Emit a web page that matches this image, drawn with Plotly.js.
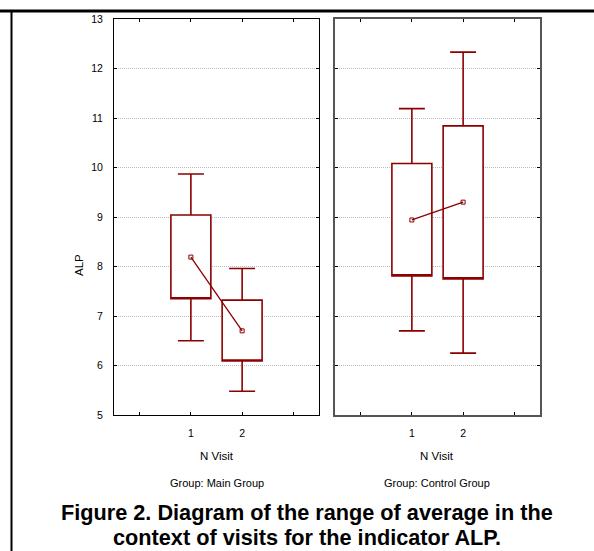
<!DOCTYPE html>
<html>
<head>
<meta charset="utf-8">
<script src="https://cdn.plot.ly/plotly-3.0.1.min.js"></script>
<style>
html,body{margin:0;padding:0;background:#fff;}
#chart{width:594px;height:551px;}
</style>
</head>
<body>
<div id="chart"></div>
<script>
// ---- data ----
const visits = [1, 2];
const xTickVals = [0, 1, 2, 3];
const xTickText = ['', '1', '2', ''];
const yTickVals = [5, 6, 7, 8, 9, 10, 11, 12, 13];

// Main group
const mainMean = [8.19, 6.70];
const mainBoxLow = [7.35, 6.09];
const mainBoxHigh = [9.04, 7.32];
const mainWhiskLow = [6.50, 5.48];
const mainWhiskHigh = [9.87, 7.96];

// Control group
const ctrlMean = [8.94, 9.30];
const ctrlBoxLow = [7.81, 7.75];
const ctrlBoxHigh = [10.08, 10.84];
const ctrlWhiskLow = [6.70, 6.25];
const ctrlWhiskHigh = [11.19, 12.33];

const groupLabels = ['Group: Main Group', 'Group: Control Group'];
const xTitle = 'N Visit';
const yTitle = 'ALP';
const captionLines = ['Figure 2. Diagram of the range of average in the',
                      'context of visits for the indicator ALP.'];

// ---- style ----
const RED = '#8b0000';
const W = 594, H = 551;
const font = 'Liberation Sans, Arial, sans-serif';
const narrow = 'Liberation Sans Narrow, Liberation Sans, Arial, sans-serif';
const px = v => v / W;
const py = v => 1 - v / H;

function boxTrace(low, high, wl, wh, xa, ya) {
  return {
    type: 'box', x: visits, q1: low, median: low, q3: high,
    lowerfence: wl, upperfence: wh,
    width: 0.78, whiskerwidth: 0.65,
    line: {color: RED, width: 1.6}, fillcolor: '#ffffff',
    xaxis: xa, yaxis: ya, showlegend: false, hoverinfo: 'skip'
  };
}
function meanTrace(m, xa, ya) {
  return {
    type: 'scatter', mode: 'lines+markers', x: visits, y: m,
    line: {color: RED, width: 1.3},
    marker: {symbol: 'square-open', size: 4, color: RED, line: {color: RED, width: 1}},
    xaxis: xa, yaxis: ya, showlegend: false, hoverinfo: 'skip'
  };
}

const data = [
  boxTrace(mainBoxLow, mainBoxHigh, mainWhiskLow, mainWhiskHigh, 'x', 'y'),
  meanTrace(mainMean, 'x', 'y'),
  boxTrace(ctrlBoxLow, ctrlBoxHigh, ctrlWhiskLow, ctrlWhiskHigh, 'x2', 'y2'),
  meanTrace(ctrlMean, 'x2', 'y2')
];

const yDom = [1 - 415 / H, 1 - 19 / H];
function xAx(dom, lc, lw) {
  return {
    domain: dom, range: [-0.5, 3.5], tickvals: xTickVals, ticktext: xTickText,
    ticks: 'inside', ticklen: 3, tickcolor: '#000', mirror: 'ticks',
    showline: true, linecolor: lc, linewidth: lw, showgrid: false, zeroline: false,
    tickfont: {family: font, size: 10.5, color: '#000'}, ticklabelstandoff: 8, fixedrange: true
  };
}
function yAx(anchor, labels, lc, lw) {
  return {
    domain: yDom, range: [5, 13], tickvals: yTickVals, anchor: anchor,
    ticks: 'inside', ticklen: 3, tickcolor: '#000', mirror: 'ticks',
    showline: true, linecolor: lc, linewidth: lw,
    showgrid: true, gridcolor: '#bbbbbb', griddash: '1px,1px', gridwidth: 1, zeroline: false,
    showticklabels: labels, tickfont: {family: font, size: 10.5, color: '#000'},
    ticklabelstandoff: 8, fixedrange: true
  };
}
function ann(text, x, y, size, fam, extra) {
  return Object.assign({text: text, xref: 'paper', yref: 'paper', x: px(x), y: py(y),
    xanchor: 'center', yanchor: 'middle', showarrow: false,
    font: {family: fam, size: size, color: '#000'}}, extra || {});
}

const layout = {
  width: W, height: H, margin: {l: 0, r: 0, t: 0, b: 0},
  paper_bgcolor: '#fff', plot_bgcolor: '#fff',
  showlegend: false,
  xaxis: Object.assign(xAx([px(114), px(319)], '#000', 1), {anchor: 'y'}),
  yaxis: yAx('x', true, '#000', 1),
  xaxis2: Object.assign(xAx([px(335), px(540)], '#555', 1.8), {anchor: 'y2'}),
  yaxis2: yAx('x2', false, '#555', 1.8),
  annotations: [
    ann(yTitle, 79, 265, 11.5, font, {textangle: -90}),
    ann(xTitle, 216.5, 456, 11.5, font),
    ann(xTitle, 437.5, 456, 11.5, font),
    ann(groupLabels[0], 216.5, 483, 11, font),
    ann(groupLabels[1], 437.5, 483, 11, font),
    ann('<b>' + captionLines[0] + '</b>', 307, 512, 21.7, narrow),
    ann('<b>' + captionLines[1] + '</b>', 307, 537, 21.7, narrow)
  ],
  shapes: [
    {type: 'line', xref: 'paper', yref: 'paper', x0: 0, x1: 1, y0: py(11), y1: py(11),
     line: {color: '#000', width: 3}},
    {type: 'line', xref: 'paper', yref: 'paper', x0: px(11.5), x1: px(11.5), y0: 0, y1: py(11),
     line: {color: '#000', width: 2}}
  ]
};

Plotly.newPlot('chart', data, layout, {staticPlot: true, displayModeBar: false});
</script>
</body>
</html>
